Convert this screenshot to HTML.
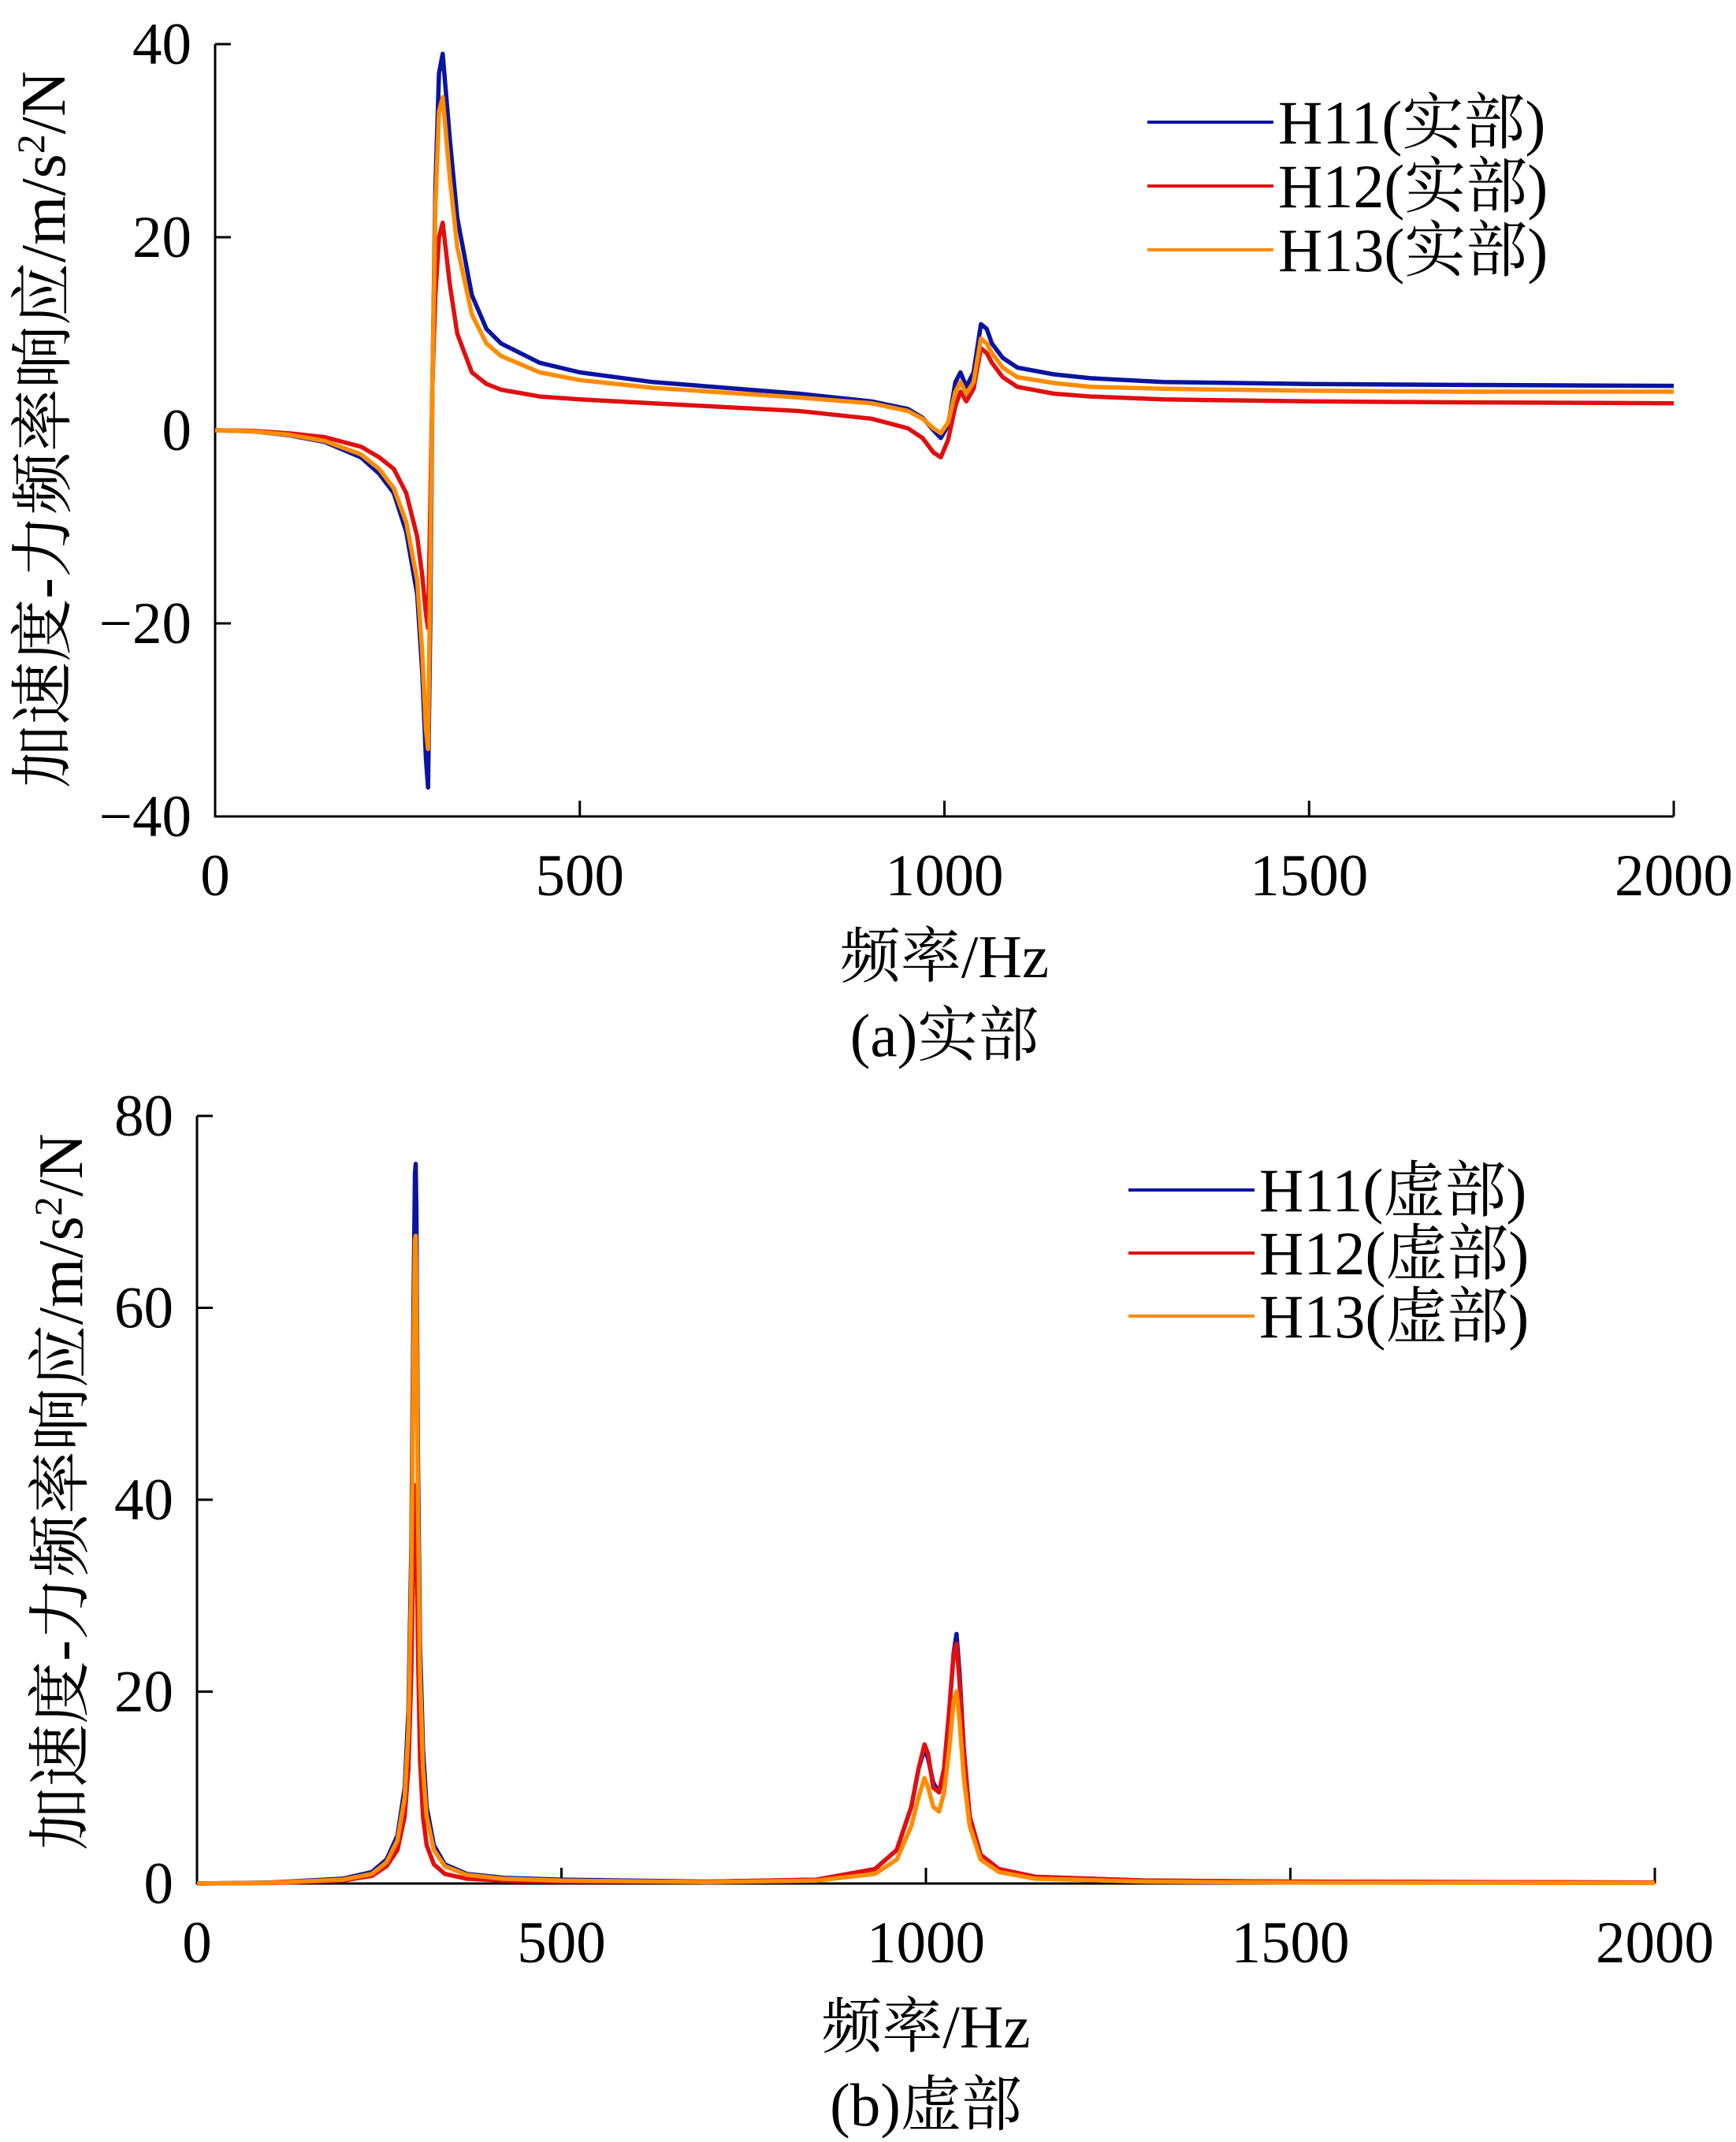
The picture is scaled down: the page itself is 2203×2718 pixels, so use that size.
<!DOCTYPE html>
<html><head><meta charset="utf-8"><style>
body{margin:0;background:#fff}
svg text{font-family:"Liberation Serif","Noto Serif CJK SC",serif;fill:#000}
</style></head><body>
<svg id="c" width="2203" height="2713" viewBox="0 0 2203 2713" xmlns="http://www.w3.org/2000/svg"></svg>
<script>
const realFreq=[0,50,100,150,200,225,245,262,277,284,289,292,295,298,302,307,312,322,332,352,372,392,445,500,600,700,800,900,950,970,985,995,1005,1015,1022,1030,1040,1050,1058,1065,1080,1100,1150,1200,1300,1500,1700,2000];
const realH11=[0,-0.1,-0.5,-1.2,-2.8,-4.5,-6.5,-10.5,-17,-25,-34,-37,-20,5,25,37,39,30,22,14,10.5,9,7,6,5,4.4,3.8,3,2.2,1.3,0,-0.8,0.5,5,6,4.5,6,11,10.5,9,7.5,6.5,5.8,5.4,5,4.8,4.7,4.6];
const realH12=[0,-0.05,-0.3,-0.7,-1.7,-2.8,-4,-6.5,-11,-15,-19,-20.5,-8,5,14,20,21.5,15,10,6,4.8,4.2,3.5,3.2,2.8,2.4,2,1.2,0.2,-0.8,-2.3,-2.8,-1,2.5,4,3,4.3,8.5,8,7,5.5,4.5,3.8,3.5,3.2,3,2.9,2.8];
const realH13=[0,-0.1,-0.45,-1.1,-2.5,-4,-6,-9.5,-15.5,-23,-31,-33,-15,5,23,33,34.5,26,19,12,9,7.7,6,5.2,4.4,3.9,3.4,2.8,2,1.2,0.2,-0.3,0.8,4,5,3.8,5,9.5,9,8,6.5,5.5,4.9,4.5,4.3,4.1,4,4];
const imagFreq=[0,100,200,240,260,275,285,290,294,297,299,300,301,303,306,310,315,325,340,370,420,500,700,850,930,960,980,990,998,1003,1010,1018,1025,1032,1038,1042,1046,1052,1060,1075,1100,1150,1300,1500,2000];
const imagH11=[0,0.1,0.5,1.2,2.5,5,10,18,35,60,74,75,70,45,25,14,8,4,2,1,0.6,0.4,0.2,0.4,1.5,3.5,8,12,14,13,10.5,9.5,12,18,24,26,22,14,7,3,1.5,0.7,0.3,0.2,0.1];
const imagH12=[0,0.05,0.3,0.8,1.8,3.5,7,12,22,36,41,41.5,38,25,13,7,4,2,1,0.5,0.3,0.2,0.2,0.4,1.5,3.5,8,12,14.5,13.5,10,9.5,12,18,24,25,21,14,7,3,1.5,0.7,0.3,0.2,0.1];
const imagH13=[0,0.08,0.4,1,2.2,4.5,9,16,32,55,67,67.5,63,40,22,12,7,3.5,1.8,0.9,0.5,0.3,0.15,0.3,1,2.5,6,9,11,10,8,7.5,9.5,14,19,20,17,11,6,2.5,1.2,0.5,0.2,0.1,0.05];
const xTicks=[0,500,1000,1500,2000];
const realYTicks=[-40,-20,0,20,40];
const imagYTicks=[0,20,40,60,80];
const colors=["#0a14a0","#e01010","#ff8c00"];
const NS="http://www.w3.org/2000/svg";
const svg=document.getElementById("c");
function el(t,a,p){const e=document.createElementNS(NS,t);for(const k in a)e.setAttribute(k,a[k]);(p||svg).appendChild(e);return e;}
function panel(cfg){
  const g=el("g",{});
  
  
  const X=v=>cfg.x0+(v-0)/(2000)*(cfg.x1-cfg.x0);
  const Y=v=>cfg.yb+(v-cfg.ymin)/(cfg.ymax-cfg.ymin)*(cfg.yt-cfg.yb);
  const ax=el("path",{d:`M${cfg.x0},${cfg.yt}V${cfg.yb}H${cfg.x1}`,stroke:"#000","stroke-width":3,fill:"none"},g);
  
  xTicks.forEach(t=>{
    const l=el("line",{x1:X(t),x2:X(t),y1:cfg.yb,y2:cfg.yb-20,stroke:"#000","stroke-width":3},g);
    
    const tx=el("text",{x:X(t),y:cfg.yb+cfg.xlo,"font-size":75,"text-anchor":"middle"},g);tx.textContent=t;
    
  });
  cfg.yticks.forEach(t=>{
    const l=el("line",{x1:cfg.x0,x2:cfg.x0+20,y1:Y(t),y2:Y(t),stroke:"#000","stroke-width":3},g);
    
    const tx=el("text",{x:cfg.x0-30,y:Y(t)+25,"font-size":75,"text-anchor":"end"},g);tx.textContent=t<0?"\u2212"+(-t):t;
    
  });
  cfg.series.forEach((s,i)=>{
    const d=cfg.freq.map((f,j)=>(j?"L":"M")+X(f).toFixed(1)+","+Y(s[j]).toFixed(1)).join("");
    const p=el("path",{d,stroke:colors[i],"stroke-width":5.5,fill:"none","stroke-linejoin":"round"},g);
    
  });
  cfg.labels.forEach((lb,i)=>{
    const y=cfg.ly+i*cfg.lstep;
    const l=el("line",{x1:cfg.lx,x2:cfg.lx+160,y1:y,y2:y,stroke:colors[i],"stroke-width":4},g);
    
    const tx=el("text",{x:cfg.lx+166,y:y+27,"font-size":78},g);tx.textContent=lb;
    
  });
  const yt=el("text",{x:0,y:0,"font-size":80,"text-anchor":"middle",transform:`translate(${cfg.ytx},${cfg.ytc}) rotate(-90)`},g);
  yt.innerHTML='加速度-力频率响应/m/s<tspan dy="-26" font-size="50">2</tspan><tspan dy="26">/N</tspan>';
  
  const xt=el("text",{x:(cfg.x0+cfg.x1)/2,y:cfg.xty,"font-size":77,"text-anchor":"middle"},g);xt.textContent="频率/Hz";
  
  const cp=el("text",{x:(cfg.x0+cfg.x1)/2,y:cfg.cy,"font-size":77,"text-anchor":"middle"},g);cp.textContent=cfg.caption;
  
}
panel({name:"real-part-chart",x0:273,x1:2124,yt:56,yb:1036,ymin:-40,ymax:40,yticks:realYTicks,freq:realFreq,series:[realH11,realH12,realH13],
  labels:["H11(实部)","H12(实部)","H13(实部)"],lx:1456,ly:155,lstep:81,ytx:82,ytc:545,xlo:100,xty:1240,cy:1340,caption:"(a)实部"});
panel({name:"imag-part-chart",x0:250,x1:2100,yt:1416,yb:2390,ymin:0,ymax:80,yticks:imagYTicks,freq:imagFreq,series:[imagH11,imagH12,imagH13],
  labels:["H11(虚部)","H12(虚部)","H13(虚部)"],lx:1432,ly:1510,lstep:80,ytx:104,ytc:1893,xlo:100,xty:2598,cy:2697,caption:"(b)虚部"});
</script>
</body></html>
